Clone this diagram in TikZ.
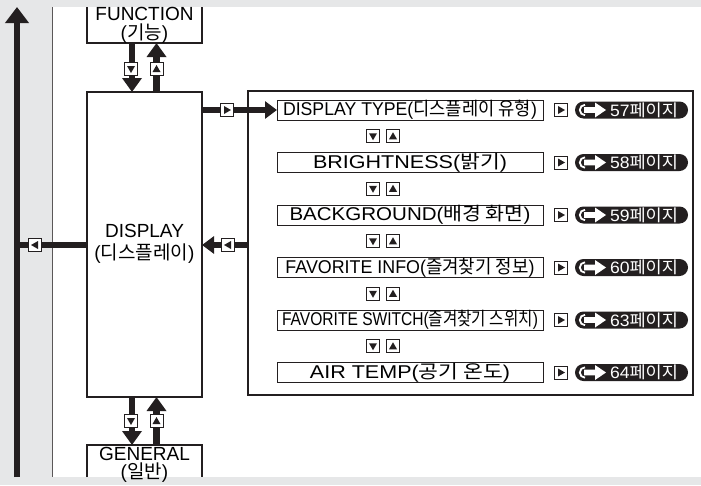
\documentclass[tikz,border=0pt]{standalone}
\usepackage{fontspec}
\usepackage{graphicx}
\setmainfont{Liberation Sans}
\newfontfamily\krfont{Noto Sans CJK KR}
\newcommand\ko[1]{{\krfont #1}}
\newcommand\fitto[2]{\resizebox{#1pt}{\height}{#2}}
\usetikzlibrary{arrows.meta}
\definecolor{bg}{HTML}{E6E7E8}
\definecolor{ink}{HTML}{231F20}
\begin{document}
\begin{tikzpicture}[x=1pt,y=-1pt,
  every node/.style={inner sep=0pt, outer sep=0pt},
  frame/.style={draw=ink, line width=1.1pt, fill=white},
  item/.style={draw=ink, line width=1pt, fill=white, minimum width=266pt, minimum height=20pt, font=\fontsize{18.5}{20}\selectfont},
  lbl/.style={font=\fontsize{19}{21}\selectfont},
  thk/.style={draw=ink, line width=6.5pt},
  harrow/.style={thk, -{Triangle[length=12pt,width=17pt]}},
  varrow/.style={thk, -{Triangle[length=14pt,width=19pt]}},
  ind/.style={draw=ink, line width=0.9pt, fill=white, minimum size=13pt},
  tdown/.style={ind, path picture={\fill[ink] ([shift={(-4pt,3pt)}]path picture bounding box.center) -- ++(8pt,0pt) -- ++(-4pt,-7pt) -- cycle;}},
  tup/.style={ind, path picture={\fill[ink] ([shift={(-4pt,-3pt)}]path picture bounding box.center) -- ++(8pt,0pt) -- ++(-4pt,7pt) -- cycle;}},
  tright/.style={ind, path picture={\fill[ink] ([shift={(-3pt,4pt)}]path picture bounding box.center) -- ++(0pt,-8pt) -- ++(7pt,4pt) -- cycle;}},
  tleft/.style={ind, path picture={\fill[ink] ([shift={(3pt,4pt)}]path picture bounding box.center) -- ++(0pt,-8pt) -- ++(-7pt,4pt) -- cycle;}},
  pill/.style={fill=ink, rounded corners=8.5pt, minimum width=113pt, minimum height=17pt},
  pgtxt/.style={text=white, font=\fontsize{16.5}{17}\selectfont}
]
\useasboundingbox (0,0) rectangle (701,485);
% background
\fill[bg] (0,0) rectangle (701,485);
\fill[white] (52,7) rectangle (701,477);
\draw[ink!75, line width=0.8pt] (52,7) -- (52,477);

% left return arrow
\coordinate (lbot) at (17,477);
\coordinate (ltop) at (17,7);
\draw[thk, -{Triangle[length=16pt,width=23pt]}] (lbot) -- (ltop);

% main boxes
\node[frame, minimum width=115pt, minimum height=305pt, anchor=north west] (disp) at (87,92) {};
\node[lbl, anchor=base] (dispa) at (144.5,237) {DISPLAY};
\node[lbl] (dispb) at (144.5,254) {(\ko{디스플레이})};

\node[minimum width=115pt, minimum height=36pt, anchor=south west] (fun) at (87,43) {};
\draw[ink, line width=1.1pt] (fun.north west) |- (fun.south east) -- (fun.north east);
\node[lbl, anchor=base] (funa) at (144.5,20) {FUNCTION};
\node[lbl] (funb) at (144.5,34) {(\ko{기능})};

\node[minimum width=115pt, minimum height=32pt, anchor=north west] (gen) at (87,445) {};
\draw[ink, line width=1.1pt] (gen.south west) |- (gen.north east) -- (gen.south east);
\node[lbl, anchor=base] (gena) at (144.5,460) {GENERAL};
\node[lbl] (genb) at (144.5,473) {(\ko{일반})};

\node[frame, minimum width=445pt, minimum height=304pt, anchor=north west] (big) at (248,91) {};

% vertical links
\draw[varrow] ([xshift=-12.5pt]fun.south) -- ([xshift=-12.5pt]disp.north);
\draw[varrow] ([xshift=12pt]disp.north) -- ([xshift=12pt]fun.south);
\node[tdown] (f1) at (131,69) {};
\node[tup] (f2) at (156.5,69) {};
\draw[varrow] ([xshift=-12.5pt]disp.south) -- ([xshift=-12.5pt]gen.north);
\draw[varrow] ([xshift=12pt]gen.north) -- ([xshift=12pt]disp.south);
\node[tdown] (g1) at (131,421) {};
\node[tup] (g2) at (156.5,421) {};

% horizontal links
\coordinate (lj) at (17,245);
\draw[thk] (disp.west |- lj) -- (lj);
\node[tleft] (l1) at (35,245) {};
\draw[harrow] (big.west |- lj) -- (disp.east |- lj);
\node[tleft] (l2) at (228,245) {};

% menu items
\foreach \i/\w/\lab/\pg in {
  0/254/{DISPLAY TYPE(\ko{디스플레이 유형})}/57,
  1/194/{BRIGHTNESS(\ko{밝기})}/58,
  2/241/{BACKGROUND(\ko{배경 화면})}/59,
  3/249/{FAVORITE INFO(\ko{즐겨찾기 정보})}/60,
  4/256/{FAVORITE SWITCH(\ko{즐겨찾기 스위치})}/63,
  5/200/{AIR TEMP(\ko{공기 온도})}/64}{
  \pgfmathsetmacro\yy{110+52.5*\i}
  \node[item] (it\i) at (410,\yy) {\fitto{\w}{\lab}};
  \node[tright] (pr\i) at (561,\yy) {};
  \node[pill] (pl\i) at (631.5,\yy) {};
  \fill[white] ([shift={(9pt,2.8pt)}]pl\i.west) -- ([shift={(20pt,2.8pt)}]pl\i.west)
     -- ([shift={(20pt,7.5pt)}]pl\i.west) -- ([shift={(31pt,0pt)}]pl\i.west)
     -- ([shift={(20pt,-7.5pt)}]pl\i.west) -- ([shift={(20pt,-2.8pt)}]pl\i.west)
     -- ([shift={(9pt,-2.8pt)}]pl\i.west) -- cycle;
  \draw[white, line width=1.8pt] ([shift={(10pt,5.2pt)}]pl\i.west) arc[start angle=90, end angle=270, radius=5.2pt];
  \node[pgtxt] (pt\i) at (644,\yy) {\fitto{68}{\pg\ko{페이지}}};
}
\foreach \i in {0,...,4}{
  \pgfmathsetmacro\yy{110+52.5*\i+26.25}
  \node[tdown] (d\i) at (373,\yy) {};
  \node[tup] (u\i) at (393,\yy) {};
}
\draw[harrow] (disp.east |- it0.west) -- (it0.west);
\node[tright] (r1) at (227,110) {};
\end{tikzpicture}
\end{document}
